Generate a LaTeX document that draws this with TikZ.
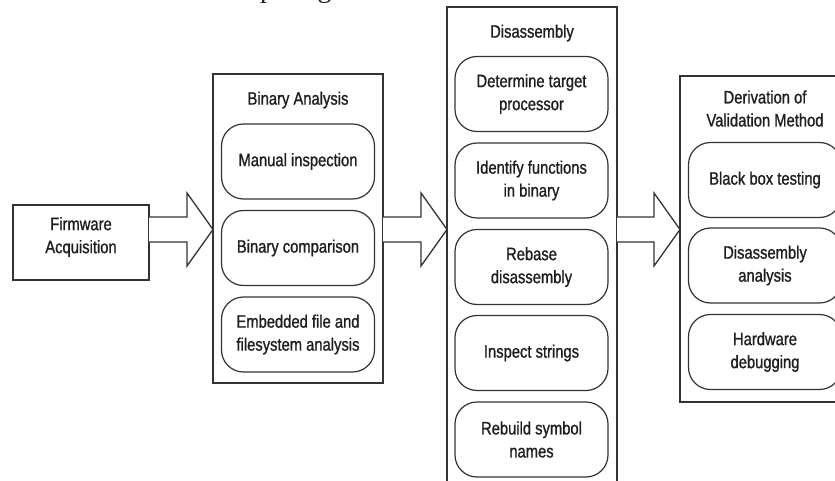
\documentclass[tikz,border=0pt]{standalone}
\usepackage{fontspec}
\setmainfont[FakeStretch=0.82,FakeBold=1]{Liberation Sans}
\newfontfamily\bodyserif{Liberation Serif}
\definecolor{inkline}{HTML}{333333}
\definecolor{inktext}{HTML}{1E1E1E}
\tikzset{
  stagebox/.style={draw=inkline, line width=1.3pt, fill=white, inner sep=0pt, outer sep=0pt,
    minimum width=170pt},
  stagetitle/.style={inner sep=0pt, align=center, text=inktext,
    font=\fontsize{18}{23}\selectfont},
  pill/.style={draw=inkline, line width=1.2pt, rounded corners=22pt, inner sep=0pt, outer sep=0pt,
    minimum width=153pt, minimum height=75pt, align=center, text=inktext,
    font=\fontsize{18}{23}\selectfont},
  blockarrow/.style={draw=inkline, line width=1.3pt, fill=white, line join=miter},
}
\begin{document}
\begin{tikzpicture}[x=1pt,y=-1pt]
\useasboundingbox (0,0) rectangle (835,481);
\clip (0,0) rectangle (835,481);

% last line of the running text above the figure
\node[anchor=base west, inner sep=0pt, outer sep=0pt, text=inktext,
  font=\bodyserif\fontsize{28}{30}\selectfont] (runon) at (-58,-2.5)
  {validation and firmware tampering attack};

% stage 0
\node[stagebox, minimum width=136pt, minimum height=75pt] (fw) at (81,242.5) {};
\node[stagetitle] (fwT) at (81,237) {Firmware\\Acquisition};

% stage 1: binary analysis
\node[stagebox, minimum height=309pt] (bin) at (298,228.5) {};
\node[stagetitle] (binT) at (298,100) {Binary Analysis};
\node[pill] (bin1) at (298,161.5) {Manual inspection};
\node[pill] (bin2) at (298,248) {Binary comparison};
\node[pill] (bin3) at (298,334.5) {Embedded file and\\filesystem analysis};

% stage 2: disassembly
\node[stagebox, minimum height=483pt] (dis) at (532,248.5) {};
\node[stagetitle] (disT) at (532,33) {Disassembly};
\node[pill] (dis1) at (531.5,94) {Determine target\\processor};
\node[pill] (dis2) at (531.5,180.5) {Identify functions\\in binary};
\node[pill] (dis3) at (531.5,267) {Rebase\\disassembly};
\node[pill] (dis4) at (531.5,353) {Inspect strings};
\node[pill] (dis5) at (531.5,439.5) {Rebuild symbol\\names};

% stage 3: derivation of validation method
\node[stagebox, minimum height=326pt] (der) at (765,239) {};
\node[stagetitle] (derT) at (765,108.5) {Derivation of\\Validation Method};
\node[pill] (der1) at (765,180) {Black box testing};
\node[pill] (der2) at (765,265.5) {Disassembly\\analysis};
\node[pill] (der3) at (765,352) {Hardware\\debugging};

% block arrows between stages
\foreach \a/\b in {fw/bin, bin/dis, dis/der}{
  \draw[blockarrow]
    (\a.east |- 0,217) -- ([xshift=-26pt]\b.west |- 0,217)
    -- ([xshift=-26pt]\b.west |- 0,193) -- (\b.west |- 0,229.5)
    -- ([xshift=-26pt]\b.west |- 0,266) -- ([xshift=-26pt]\b.west |- 0,242)
    -- (\a.east |- 0,242);
}
\end{tikzpicture}
\end{document}
